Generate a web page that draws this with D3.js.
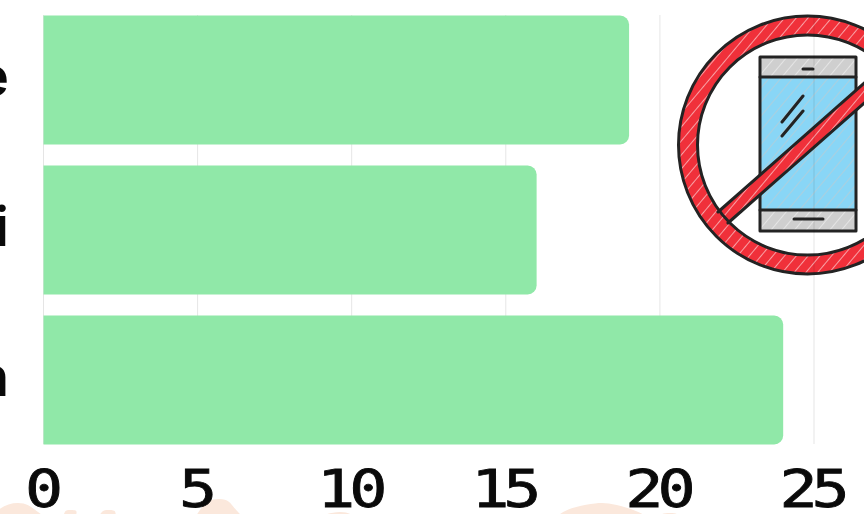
<!DOCTYPE html>
<html>
<head>
<meta charset="utf-8">
<script src="https://cdn.jsdelivr.net/npm/d3@7"></script>
<style>
  html, body { margin: 0; padding: 0; background: #fff; overflow: hidden; }
  svg { display: block; }
</style>
</head>
<body>
<div id="chart"></div>
<script>
// only the last letter of each category is visible in the frame
const categories = ["e", "i", "n"]
const values = [19, 16, 24]
const ticks = [0, 5, 10, 15, 20, 25]

// peach shapes along the bottom edge: [left, top, right]
const blobLeft = [-8, 60, 96, 196, 316, 558, 650]
const blobTop = [503, 510, 510, 499, 512, 503, 513]
const blobRight = [44, 82, 122, 242, 364, 646, 690]

const width = 864, height = 514

const svg = d3.select("#chart").append("svg")
  .attr("width", width)
  .attr("height", height)

const x = d3.scaleLinear().domain([0, 25]).range([43.5, 814])
const y = d3.scaleBand().domain(categories).range([5, 455]).paddingInner(0.14).paddingOuter(0.07)

// background shapes
svg.append("g").selectAll("path")
  .data(blobLeft)
  .enter().append("path")
    .attr("fill", "#fbe8dc")
    .attr("d", (d, i) => {
      const mid = (d + blobRight[i]) / 2
      return `M${d},516 C${d + 8},${blobTop[i] + 4} ${mid - 10},${blobTop[i]} ${mid},${blobTop[i]} C${mid + 12},${blobTop[i]} ${blobRight[i] - 12},${blobTop[i] + 6} ${blobRight[i]},516 Z`
    })

// icon
const defs = svg.append("defs")
const hatch = (id, color, op, w) => {
  defs.append("pattern")
    .attr("id", id)
    .attr("width", 9).attr("height", 9)
    .attr("patternUnits", "userSpaceOnUse")
    .attr("patternTransform", "rotate(40)")
    .append("line")
      .attr("x1", 0).attr("y1", 0).attr("x2", 0).attr("y2", 9)
      .attr("stroke", color).attr("stroke-width", w).attr("stroke-opacity", op)
}
hatch("hatchWhite", "#fff", 0.85, 1.3)
hatch("hatchGrey", "#c9c9c9", 0.9, 1.2)
hatch("hatchLight", "#fff", 0.7, 1.3)

const icon = svg.append("g").attr("stroke-linejoin", "round").attr("stroke-linecap", "round")
const dark = "#232323"

// phone body
icon.append("rect").attr("x", 760).attr("y", 57).attr("width", 96).attr("height", 174).attr("fill", "#cfcfcf")
icon.append("rect").attr("x", 760).attr("y", 57).attr("width", 96).attr("height", 174).attr("fill", "url(#hatchLight)")
icon.append("rect").attr("x", 761).attr("y", 77).attr("width", 94).attr("height", 133).attr("fill", "#89d6f6")
icon.append("rect").attr("x", 761).attr("y", 77).attr("width", 94).attr("height", 133).attr("fill", "url(#hatchGrey)")
icon.append("rect").attr("x", 760).attr("y", 57).attr("width", 96).attr("height", 174)
  .attr("fill", "none").attr("stroke", dark).attr("stroke-width", 3)
icon.append("path").attr("d", "M760,77H856M760,210H856M803,69H813M794,219H823M782,122L803,96M782,136L803,111")
  .attr("fill", "none").attr("stroke", dark).attr("stroke-width", 3)

// slash and ring
const ringCx = 807.5, ringCy = 145, ringOuter = 129, ringInner = 110
const ringPath = `M${ringCx - ringOuter},${ringCy}a${ringOuter},${ringOuter} 0 1,0 ${2 * ringOuter},0a${ringOuter},${ringOuter} 0 1,0 ${-2 * ringOuter},0Z` +
  `M${ringCx - ringInner},${ringCy}a${ringInner},${ringInner} 0 1,0 ${2 * ringInner},0a${ringInner},${ringInner} 0 1,0 ${-2 * ringInner},0Z`
const slashPath = "M718,212L870,78L870,98L728,223Z"
for (const fill of ["#f0303a", "url(#hatchWhite)"]) {
  icon.append("path").attr("d", slashPath).attr("fill", fill)
  icon.append("path").attr("d", ringPath).attr("fill", fill).attr("fill-rule", "evenodd")
}
icon.append("path").attr("d", "M718,212L870,78M728,223L870,98").attr("fill", "none").attr("stroke", dark).attr("stroke-width", 3)
icon.append("path").attr("d", ringPath).attr("fill", "none").attr("stroke", dark).attr("stroke-width", 3)

// gridlines
svg.append("g").selectAll("line")
  .data(ticks)
  .enter().append("line")
    .attr("x1", d => x(d)).attr("x2", d => x(d))
    .attr("y1", 15).attr("y2", 444)
    .attr("stroke", "#000").attr("stroke-opacity", 0.1).attr("stroke-width", 1)

// bars, rounded on the right only
const r = 9
svg.append("g").selectAll("path")
  .data(values)
  .enter().append("path")
    .attr("fill", "#90e8a8")
    .attr("d", (d, i) => {
      const top = y(categories[i]), h = y.bandwidth()
      return `M${x(0)},${top}H${x(d) - r}a${r},${r} 0 0 1 ${r},${r}V${top + h - r}a${r},${r} 0 0 1 ${-r},${r}H${x(0)}Z`
    })

// category labels
svg.append("g").selectAll("text")
  .data(categories)
  .enter().append("text")
    .attr("x", 9)
    .attr("y", d => y(d) + y.bandwidth() / 2 + 15.5)
    .attr("text-anchor", "end")
    .attr("font-family", "Inter")
    .attr("font-weight", 600)
    .attr("font-size", 54)
    .attr("fill", "#0a0a0a")
    .text(d => d)

// x axis
const axis = svg.append("g")
  .attr("transform", "translate(0,444)")
  .call(d3.axisBottom(x).tickValues(ticks).tickSize(0).tickPadding(26))
axis.select(".domain").remove()
axis.selectAll("text")
  .attr("font-family", "DejaVu Sans Mono")
  .attr("font-size", 52)
  .attr("letter-spacing", -5)
  .attr("transform", "translate(-3,0) scale(1.22,1)")
  .attr("fill", "#0a0a0a")
  .attr("stroke", "#0a0a0a")
  .attr("stroke-width", 0.8)
</script>
</body>
</html>
